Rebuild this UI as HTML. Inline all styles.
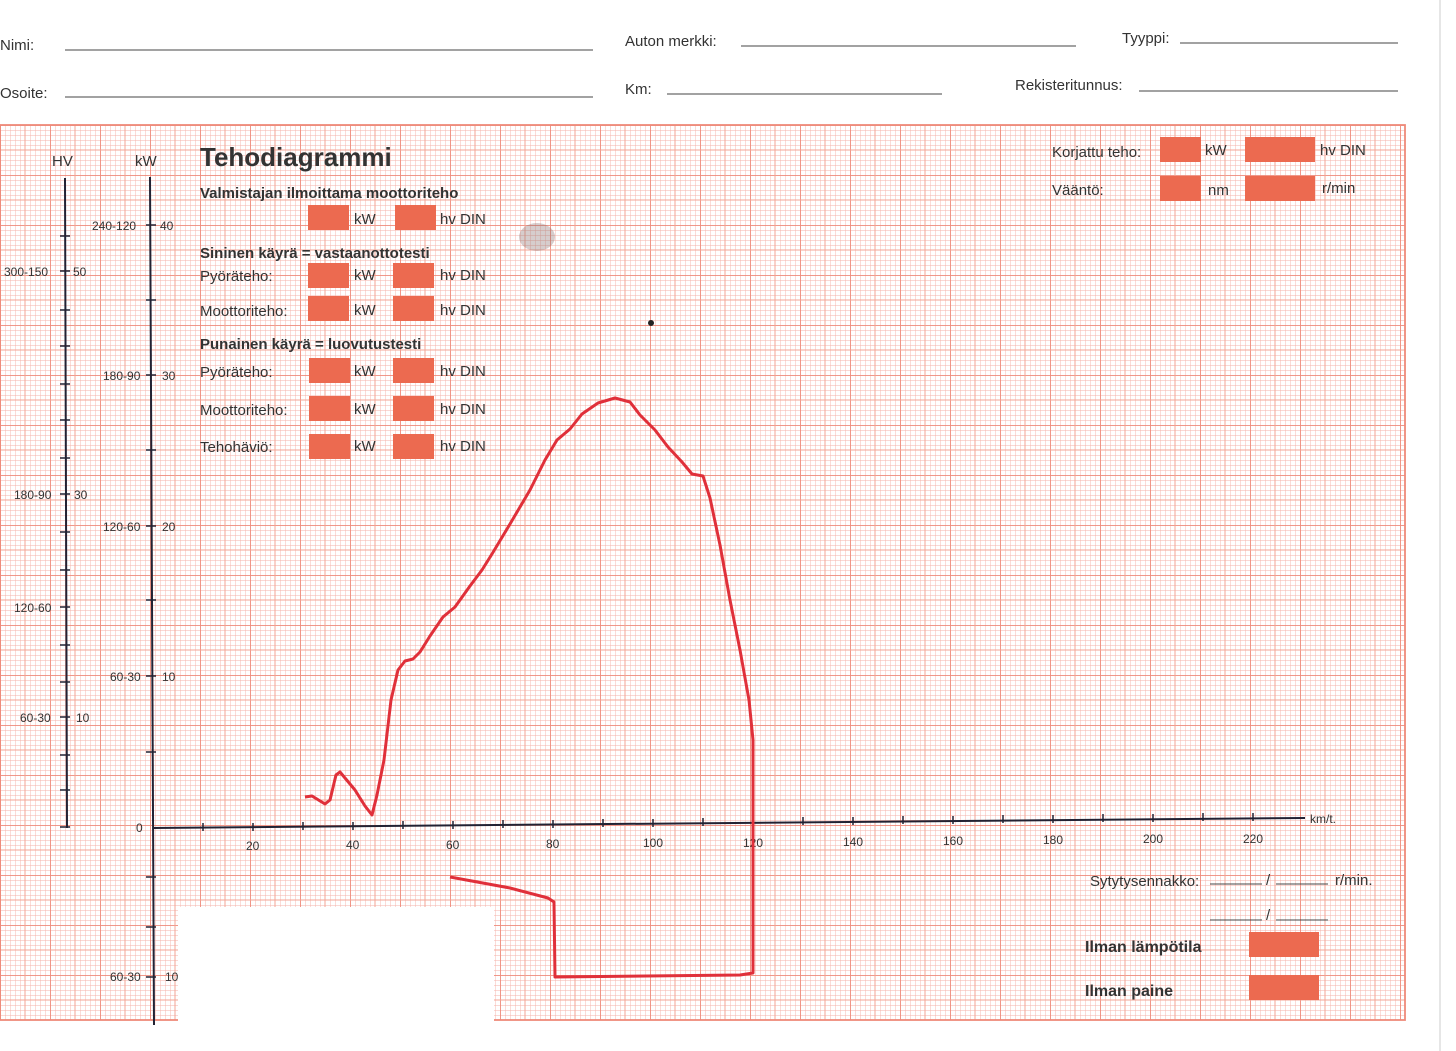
<!DOCTYPE html>
<html><head><meta charset="utf-8"><style>
html,body{margin:0;padding:0;background:#fff}
svg{display:block}
text{font-family:"Liberation Sans",sans-serif;fill:#333}
</style></head><body>
<svg width="1456" height="1051" viewBox="0 0 1456 1051" xmlns="http://www.w3.org/2000/svg">
<defs>
<pattern id="minor" x="0" y="125" width="5" height="5" patternUnits="userSpaceOnUse">
<path d="M0 0H5M0 0V5" stroke="#f5b2a8" stroke-width="0.9" fill="none"/>
</pattern>
<pattern id="major" x="0" y="125" width="50" height="50" patternUnits="userSpaceOnUse">
<path d="M0 0H50M0 0V50" stroke="#ee8a7a" stroke-width="1.8" fill="none"/>
<path d="M25 0V50M0 25H50" stroke="#f3a596" stroke-width="1" fill="none"/>
</pattern>
</defs>
<rect x="0" y="0" width="1456" height="1051" fill="#fff"/>
<rect x="0" y="125" width="1405" height="895" fill="url(#minor)"/>
<rect x="0" y="125" width="1405" height="895" fill="url(#major)"/>
<rect x="0" y="125" width="1405" height="895" fill="none" stroke="#ee8a7a" stroke-width="1.8"/>
<rect x="178" y="907" width="316" height="124" fill="#fff"/>
<line x1="1440" y1="0" x2="1440" y2="1051" stroke="#ccc" stroke-width="1"/>

<g font-size="15">
<text x="0" y="50">Nimi:</text><line x1="65" y1="50" x2="593" y2="50" stroke="#444"/>
<text x="625" y="46">Auton merkki:</text><line x1="741" y1="46" x2="1076" y2="46" stroke="#444"/>
<text x="1122" y="43">Tyyppi:</text><line x1="1180" y1="43" x2="1398" y2="43" stroke="#444"/>
<text x="0" y="98">Osoite:</text><line x1="65" y1="97" x2="593" y2="97" stroke="#444"/>
<text x="625" y="94">Km:</text><line x1="667" y1="94" x2="942" y2="94" stroke="#444"/>
<text x="1015" y="90">Rekisteritunnus:</text><line x1="1139" y1="91" x2="1398" y2="91" stroke="#444"/>
</g>

<g stroke="#223" stroke-width="2">
<line x1="65" y1="178" x2="67" y2="828"/>
<line x1="150" y1="177" x2="154" y2="1025"/>
<line x1="153" y1="828" x2="1305" y2="818"/>
</g>
<g stroke="#223" stroke-width="1.5">
<path d="M60 236h10M60 271h10M60 310h10M60 346h10M60 384h10M60 420h10M60 458h10M60 494h10M60 532h10M60 570h10M60 607h10M60 645h10M60 682h10M60 717h10M60 755h10M60 790h10M60 827h10"/>
<path d="M146 225h10M146 300h10M146 375h10M146 450h10M146 526h10M146 600h10M146 676h10M146 752h10M146 877h10M146 927h10M146 977h10"/>
<path d="M203 823v8M253 823v8M303 822v8M353 822v8M403 821v8M453 821v8M503 820v8M553 820v8M603 819v8M653 819v8M703 818v8M753 818v8M803 817v8M853 817v8M903 816v8M953 816v8M1003 815v8M1053 815v8M1103 814v8M1153 814v8M1203 813v8M1253 813v8"/>
</g>
<g font-size="12">
<text x="52" y="166" font-size="15">HV</text>
<text x="135" y="166" font-size="15">kW</text>
<text x="92" y="230">240-120</text><text x="160" y="230">40</text>
<text x="4" y="276">300-150</text><text x="73" y="276">50</text>
<text x="103" y="380">180-90</text><text x="162" y="380">30</text>
<text x="14" y="499">180-90</text><text x="74" y="499">30</text>
<text x="103" y="531">120-60</text><text x="162" y="531">20</text>
<text x="14" y="612">120-60</text>
<text x="110" y="681">60-30</text><text x="162" y="681">10</text>
<text x="20" y="722">60-30</text><text x="76" y="722">10</text>
<text x="136" y="832">0</text>
<text x="110" y="981">60-30</text><text x="165" y="981">10</text>
<text x="246" y="850">20</text><text x="346" y="849">40</text><text x="446" y="849">60</text>
<text x="546" y="848">80</text><text x="643" y="847">100</text><text x="743" y="847">120</text>
<text x="843" y="846">140</text><text x="943" y="845">160</text><text x="1043" y="844">180</text>
<text x="1143" y="843">200</text><text x="1243" y="843">220</text>
<text x="1310" y="823">km/t.</text>
</g>

<text x="200" y="166" font-size="26" font-weight="bold">Tehodiagrammi</text>
<g font-size="15" font-weight="bold">
<text x="200" y="198">Valmistajan ilmoittama moottoriteho</text>
<text x="200" y="258">Sininen käyrä = vastaanottotesti</text>
<text x="200" y="349">Punainen käyrä = luovutustesti</text>
</g>
<g font-size="15">
<text x="200" y="281">Pyöräteho:</text>
<text x="200" y="316">Moottoriteho:</text>
<text x="200" y="377">Pyöräteho:</text>
<text x="200" y="415">Moottoriteho:</text>
<text x="200" y="452">Tehohäviö:</text>
<text x="354" y="224">kW</text><text x="440" y="224">hv DIN</text>
<text x="354" y="280">kW</text><text x="440" y="280">hv DIN</text>
<text x="354" y="315">kW</text><text x="440" y="315">hv DIN</text>
<text x="354" y="376">kW</text><text x="440" y="376">hv DIN</text>
<text x="354" y="414">kW</text><text x="440" y="414">hv DIN</text>
<text x="354" y="451">kW</text><text x="440" y="451">hv DIN</text>
<text x="1052" y="157">Korjattu teho:</text><text x="1205" y="155">kW</text><text x="1320" y="155">hv DIN</text>
<text x="1052" y="195">Vääntö:</text><text x="1208" y="195">nm</text><text x="1322" y="193">r/min</text>
<text x="1090" y="886">Sytytysennakko:</text><text x="1335" y="885">r/min.</text>
<text x="1266" y="885">/</text><text x="1266" y="920">/</text>
</g>
<g stroke="#444">
<line x1="1210" y1="884" x2="1262" y2="884"/><line x1="1276" y1="884" x2="1328" y2="884"/>
<line x1="1210" y1="920" x2="1262" y2="920"/><line x1="1276" y1="920" x2="1328" y2="920"/>
</g>
<g font-size="16" font-weight="bold">
<text x="1085" y="952">Ilman lämpötila</text>
<text x="1085" y="996">Ilman paine</text>
</g>
<g fill="#ec6a50">
<rect x="308" y="205" width="41" height="25"/><rect x="395" y="205" width="41" height="25"/>
<rect x="308" y="263" width="41" height="25"/><rect x="393" y="263" width="41" height="25"/>
<rect x="308" y="296" width="41" height="25"/><rect x="393" y="296" width="41" height="25"/>
<rect x="309" y="358" width="41" height="25"/><rect x="393" y="358" width="41" height="25"/>
<rect x="309" y="396" width="41" height="25"/><rect x="393" y="396" width="41" height="25"/>
<rect x="309" y="434" width="41" height="25"/><rect x="393" y="434" width="41" height="25"/>
<rect x="1160" y="137" width="41" height="25"/><rect x="1245" y="137" width="70" height="25"/>
<rect x="1160" y="176" width="41" height="25"/><rect x="1245" y="176" width="70" height="25"/>
<rect x="1249" y="932" width="70" height="25"/><rect x="1249" y="975" width="70" height="25"/>
</g>
<circle cx="651" cy="323" r="3" fill="#222"/>
<ellipse cx="537" cy="237" rx="18" ry="14" fill="#8a7070" opacity="0.35"/>

<path d="M305 797 L312 796 L325 804 L330 800 L336 775 L340 772 L345 778 L355 790 L365 806 L372 815 L377 795 L384 760 L391 700 L398 670 L405 661 L413 659 L420 652 L430 636 L443 617 L455 607 L470 586 L482 570 L492 554 L510 524 L530 490 L545 460 L557 440 L570 429 L582 414 L598 403 L615 398 L630 402 L640 415 L655 430 L668 447 L682 462 L692 474 L703 476 L710 498 L720 545 L730 600 L740 650 L749 700 L753 740 L753 973 L740 975 L555 977 L554 902 L548 898 L510 888 L450 877" fill="none" stroke="#e0303a" stroke-width="3" stroke-linejoin="round"/>
</svg>
</body></html>
